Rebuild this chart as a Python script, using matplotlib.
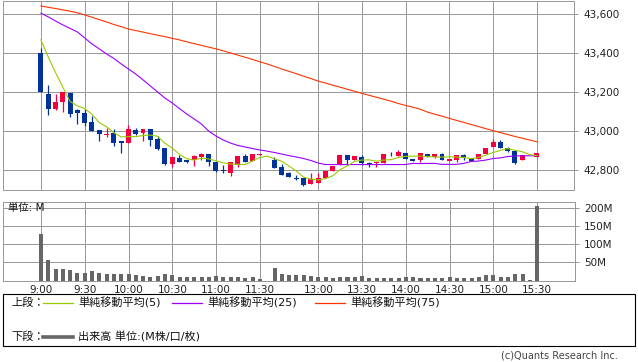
import matplotlib
matplotlib.use("Agg")
import matplotlib.pyplot as plt
from matplotlib.lines import Line2D
from matplotlib.patches import Rectangle
import numpy as np

plt.rcParams["font.family"] = ["DejaVu Sans", "Noto Sans CJK JP"]

# 5-minute bars, 9:00 .. 15:30 (index 31 is the lunch slot)
opens = [43402, 43190, 43111, 43150, 43195, 43106, 43092, 43046, 43005, 42981,
         42988, 42950, 42937, 43005, 42988, 43010, 42957, 42914, 42831, 42862,
         42851, 42851, 42868, 42880, 42843, 42797, 42786, 42826, 42873, 42845,
         42877, 42879, 42851, 42814, 42783, 42761, 42757, 42727, 42735, 42757,
         42795, 42826, 42877, 42851, 42868, 42834, 42834, 42834, 42884, 42873,
         42886, 42855, 42851, 42882, 42865, 42882, 42848, 42851, 42877, 42860,
         42855, 42880, 42916, 42945, 42911, 42899, 42851, 42872, 42868]
highs = [43427, 43236, 43190, 43200, 43195, 43111, 43111, 43077, 43005, 43017,
         43009, 42950, 43031, 43017, 43010, 43010, 42974, 42914, 42865, 42877,
         42853, 42879, 42886, 42882, 42843, 42826, 42841, 42872, 42880, 42884,
         42882, 42879, 42865, 42831, 42791, 42774, 42760, 42786, 42786, 42796,
         42822, 42877, 42877, 42872, 42877, 42843, 42843, 42882, 42891, 42903,
         42886, 42855, 42886, 42882, 42882, 42889, 42856, 42877, 42882, 42860,
         42882, 42914, 42957, 42954, 42916, 42899, 42877, 42872, 42889]
lows = [43202, 43082, 43108, 43099, 43073, 43036, 43027, 43002, 42949, 42968,
        42925, 42886, 42937, 42979, 42950, 42925, 42904, 42826, 42817, 42841,
        42834, 42822, 42850, 42822, 42792, 42783, 42771, 42817, 42840, 42845,
        42877, 42875, 42809, 42774, 42763, 42749, 42718, 42727, 42735, 42757,
        42795, 42826, 42826, 42851, 42826, 42817, 42817, 42834, 42873, 42873,
        42855, 42846, 42840, 42865, 42860, 42851, 42848, 42840, 42851, 42848,
        42855, 42880, 42916, 42911, 42891, 42829, 42851, 42870, 42868]
closes = [43202, 43115, 43149, 43200, 43089, 43094, 43043, 43002, 42986, 42984,
          42940, 42937, 43010, 42986, 43010, 42954, 42906, 42831, 42865, 42843,
          42843, 42874, 42880, 42843, 42795, 42794, 42841, 42872, 42840, 42884,
          42882, 42875, 42809, 42774, 42763, 42752, 42723, 42752, 42757, 42796,
          42822, 42877, 42851, 42872, 42834, 42826, 42843, 42882, 42880, 42891,
          42855, 42846, 42886, 42865, 42882, 42851, 42856, 42877, 42860, 42848,
          42882, 42914, 42945, 42911, 42899, 42837, 42877, 42870, 42889]

ma5 = [43467, 43380, 43300, 43225, 43151, 43129, 43115, 43086, 43043, 43022,
       42991, 42970, 42971, 42971, 42977, 42979, 42973, 42937, 42913, 42880,
       42858, 42851, 42861, 42857, 42847, 42837, 42831, 42829, 42828, 42846,
       42864, 42871, 42858, 42845, 42821, 42795, 42764, 42753, 42749, 42756,
       42770, 42801, 42821, 42844, 42851, 42852, 42845, 42851, 42853, 42864,
       42870, 42871, 42872, 42869, 42867, 42866, 42868, 42866, 42865, 42858,
       42865, 42876, 42890, 42900, 42910, 42901, 42894, 42879, 42874]
ma25 = [43604, 43585, 43564, 43544, 43526, 43508, 43477, 43446, 43421, 43395,
        43372, 43344, 43318, 43292, 43262, 43231, 43200, 43169, 43144, 43115,
        43087, 43062, 43036, 43000, 42974, 42954, 42938, 42926, 42918, 42910,
        42903, 42897, 42890, 42882, 42874, 42867, 42859, 42849, 42836, 42828,
        42828, 42828, 42828, 42828, 42828, 42828, 42828, 42828, 42828, 42828,
        42828, 42834, 42833, 42834, 42834, 42829, 42829, 42829, 42834, 42844,
        42846, 42851, 42859, 42862, 42869, 42872, 42873, 42873, 42873]
ma75 = [43641, 43634, 43628, 43621, 43614, 43606, 43595, 43583, 43571, 43559,
        43546, 43535, 43523, 43515, 43507, 43499, 43491, 43484, 43475, 43467,
        43457, 43448, 43439, 43430, 43421, 43411, 43400, 43389, 43378, 43367,
        43355, 43344, 43331, 43318, 43306, 43294, 43281, 43269, 43256, 43246,
        43235, 43225, 43214, 43204, 43193, 43183, 43173, 43163, 43153, 43141,
        43131, 43122, 43112, 43097, 43086, 43076, 43065, 43054, 43044, 43033,
        43023, 43012, 43002, 42992, 42982, 42972, 42963, 42954, 42945]

# volume, millions
volume = [128, 56, 31, 33, 28, 22, 22, 25, 20, 18, 17, 17, 19, 15, 12, 11, 12,
          19, 15, 11, 11, 11, 11, 11, 12, 11, 9, 11, 8, 11, 5, 0, 36, 17, 14,
          14, 14, 12, 11, 11, 8, 11, 11, 9, 12, 8, 8, 8, 8, 8, 11, 11, 8, 8, 8,
          8, 11, 8, 8, 8, 11, 14, 14, 11, 11, 19, 19, 1, 206]

tick_pos = [0, 6, 12, 18, 24, 30, 38, 44, 50, 56, 62, 68]
tick_labels = ["9:00", "9:30", "10:00", "10:30", "11:00", "11:30",
               "13:00", "13:30", "14:00", "14:30", "15:00", "15:30"]
price_ticks = [42800, 43000, 43200, 43400, 43600]
vol_ticks = [50, 100, 150, 200]

W, H = 638, 362
UP = "#f5003d"
DOWN = "#003399"
GRID = "#999999"
PX = 0.72  # one pixel in points


def rect(l, t, r, b):
    return [l / W, 1 - b / H, (r - l) / W, (b - t) / H]


def style(ax):
    for s in ax.spines.values():
        s.set_color(GRID)
        s.set_linewidth(PX)
        s.set_antialiased(False)
    ax.set_axisbelow(True)
    ax.grid(True, color=GRID, linewidth=PX, antialiased=False)
    ax.yaxis.tick_right()
    ax.tick_params(axis="y", length=3, width=PX, color=GRID, pad=4,
                   labelsize=7.5, labelcolor="#222222")
    ax.set_xticks(tick_pos)
    ax.set_xlim(-5.2, 73.1)


fig = plt.figure(figsize=(W / 100, H / 100), dpi=100)

ax = fig.add_axes(rect(3, 0.5, 574, 190.3))
style(ax)
ax.tick_params(axis="x", length=0, labelbottom=False)
ax.set_ylim(42696, 43669)
ax.set_yticks(price_ticks)
ax.set_yticklabels([f"{v:,}" for v in price_ticks])

idx = np.arange(len(closes))
o = np.array(opens)
c = np.array(closes)
colors = [UP if cc >= oo else DOWN for oo, cc in zip(o, c)]
ax.vlines(idx, lows, highs, colors=colors, linewidth=0.9, zorder=3)
body = np.maximum(np.abs(c - o), 4)
ax.bar(idx, body, bottom=np.minimum(o, c), width=0.68, color=colors,
       linewidth=0, zorder=4)

ax.plot(idx, ma75, color="#ff3300", linewidth=0.8, zorder=5)
ax.plot(idx, ma25, color="#9900ff", linewidth=0.8, zorder=5)
ax.plot(idx, ma5, color="#99cc00", linewidth=0.8, zorder=5)

axv = fig.add_axes(rect(3, 202, 574.5, 280.5))
style(axv)
axv.tick_params(axis="x", length=0, labelsize=7.5, labelcolor="#222222", pad=3)
axv.set_xticklabels(tick_labels)
axv.set_ylim(0, 218)
axv.set_yticks(vol_ticks)
axv.set_yticklabels([f"{v}M" for v in vol_ticks])
axv.bar(idx, volume, width=0.55, color="#666666", linewidth=0, zorder=3)
axv.text(0.008, 0.93, "単位: M", transform=axv.transAxes, fontsize=7.5,
         va="center", ha="left", color="#111111")

# legend box
fig.patches.append(Rectangle((3 / W, 1 - 346 / H), 632 / W, 52 / H,
                             transform=fig.transFigure, fill=False,
                             edgecolor="black", linewidth=0.8))


def leg_line(x0, x1, y, color, lw):
    fig.add_artist(Line2D([x0 / W, x1 / W], [1 - y / H, 1 - y / H],
                          color=color, linewidth=lw))


def leg_text(x, y, s):
    fig.text(x / W, 1 - y / H, s, fontsize=8, va="center", ha="left",
             color="#111111")


leg_text(11, 303, "上段：")
leg_line(43, 73, 303, "#99cc00", 0.9)
leg_text(78, 303, "単純移動平均(5)")
leg_line(172, 202, 303, "#9900ff", 0.9)
leg_text(207, 303, "単純移動平均(25)")
leg_line(315, 345, 303, "#ff3300", 0.9)
leg_text(350, 303, "単純移動平均(75)")
leg_text(11, 337, "下段：")
leg_line(43, 73, 337, "#666666", 2.6)
leg_text(78, 337, "出来高 単位:(M株/口/枚)")

fig.text(618 / W, 1 - 356 / H, "(c)Quants Research Inc.", fontsize=7,
         ha="right", va="center", color="#444444")

fig.savefig("out.png", dpi=100)
